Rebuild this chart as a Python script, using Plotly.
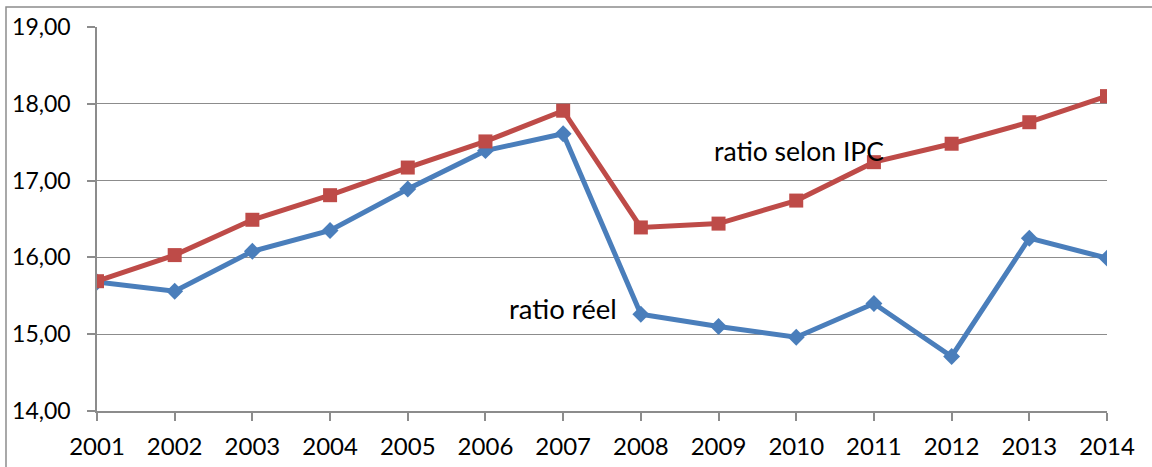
import plotly.graph_objects as go

years = [2001, 2002, 2003, 2004, 2005, 2006, 2007, 2008, 2009, 2010, 2011, 2012, 2013, 2014]
ratio_reel = [15.68, 15.56, 16.08, 16.35, 16.89, 17.39, 17.61, 15.26, 15.10, 14.96, 15.40, 14.71, 16.25, 15.99]
ratio_ipc = [15.69, 16.03, 16.49, 16.81, 17.17, 17.51, 17.91, 16.39, 16.44, 16.74, 17.24, 17.48, 17.76, 18.10]
y_ticks = [14, 15, 16, 17, 18, 19]

FONT = "Lato, 'Open Sans', sans-serif"
GRID = "#8c8c8c"

fig = go.Figure()
fig.add_trace(go.Scatter(
    x=years, y=ratio_reel, mode="lines+markers", name="ratio réel",
    line=dict(color="#4A7EBB", width=5),
    marker=dict(symbol="diamond", size=13, color="#4A7EBB"),
))
fig.add_trace(go.Scatter(
    x=years, y=ratio_ipc, mode="lines+markers", name="ratio selon IPC",
    line=dict(color="#BE4B48", width=5),
    marker=dict(symbol="square", size=14, color="#BE4B48"),
))

fig.add_annotation(x=2007.0, y=15.34, xref="x", yref="y", text="ratio réel",
                   showarrow=False, font=dict(family=FONT, size=27.5, color="#000"))
fig.add_annotation(x=2010.03, y=17.38, xref="x", yref="y", text="ratio selon IPC",
                   showarrow=False, font=dict(family=FONT, size=26.5, color="#000"))

# outer chart frame (clipped at right/bottom as in the reference)
fig.add_shape(type="rect", xref="paper", yref="paper",
              x0=-0.0901, x1=1.2, y0=-0.3, y1=1.052,
              line=dict(color="#8c8c8c", width=1.5))

fig.update_layout(
    width=1152, height=467,
    margin=dict(l=97, r=45, t=27, b=56),
    paper_bgcolor="white", plot_bgcolor="white",
    showlegend=False,
    separators=", ",
    font=dict(family=FONT, size=23, color="#000"),
)
fig.update_xaxes(
    range=[2001, 2014], tickvals=years, ticktext=[str(y) for y in years],
    showgrid=False, showline=True, linecolor=GRID, linewidth=1.5,
    ticks="outside", ticklen=8, tickcolor=GRID, tickwidth=1.5,
    zeroline=False, tickfont=dict(size=24), ticklabelstandoff=5,
    automargin=False,
)
fig.update_yaxes(
    range=[14, 19], tickvals=y_ticks, tickformat=".2f",
    showgrid=True, gridcolor=GRID, gridwidth=1.2,
    showline=True, linecolor=GRID, linewidth=1.5,
    ticks="outside", ticklen=8, tickcolor=GRID, tickwidth=1.5,
    zeroline=False, tickfont=dict(size=23), ticklabelstandoff=12,
    automargin=False,
)

fig.write_html("out.html", config={"displayModeBar": False},
               post_script="document.body.style.margin='0';")
